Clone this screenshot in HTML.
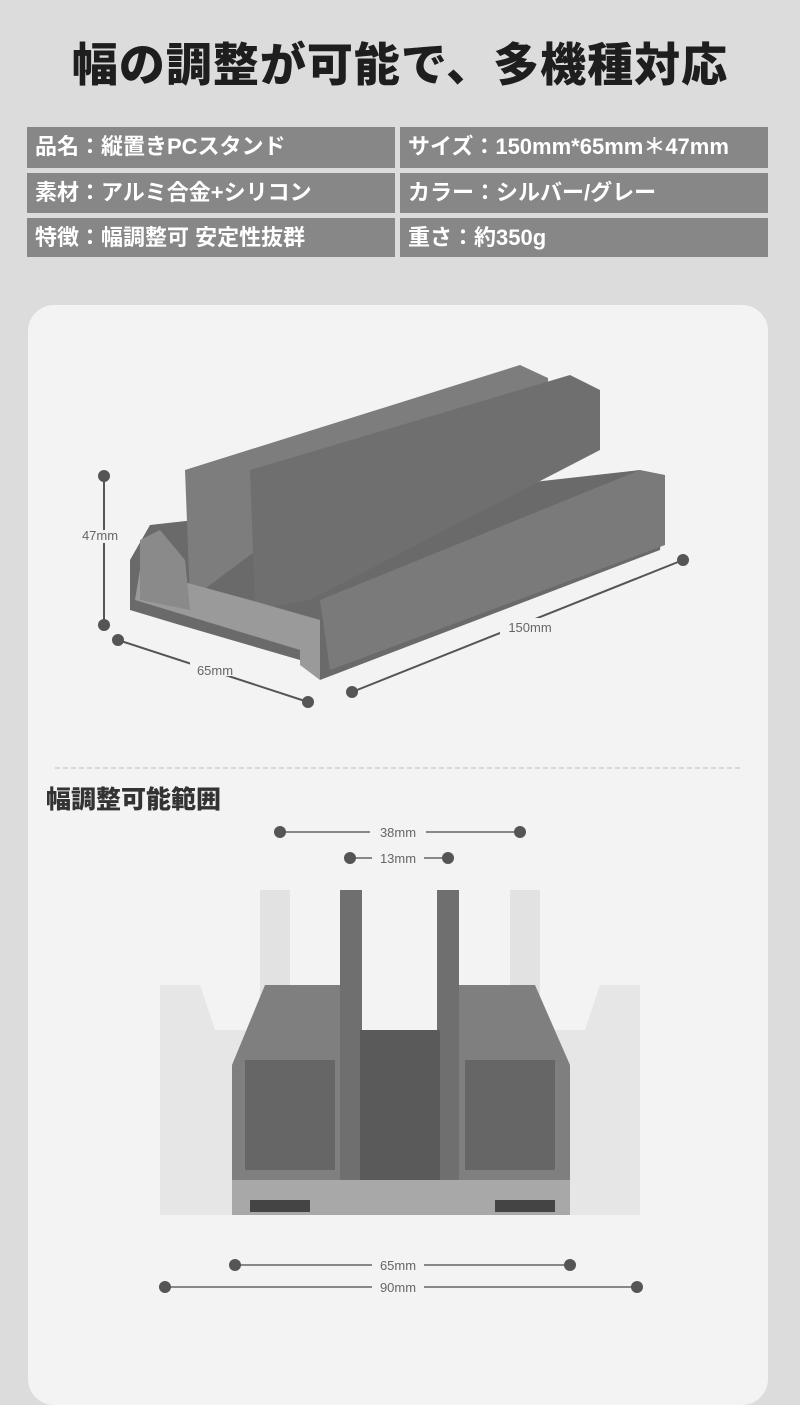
<!DOCTYPE html>
<html><head><meta charset="utf-8"><style>
body{margin:0;width:800px;height:1364px;background:#dcdcdc;position:relative;overflow:hidden;font-family:"Liberation Sans","Noto Sans CJK JP",sans-serif}
h1{position:absolute;left:0;width:800px;top:30px;margin:0;text-align:center;font-size:46px;font-weight:900;color:#1e1e1e;letter-spacing:1px;line-height:70px}
.c{position:absolute;background:#878787;color:#fff;font-size:22px;font-weight:bold;line-height:40px;padding-left:8px;box-sizing:border-box}
.card{position:absolute;left:28px;top:305px;width:740px;height:1100px;background:#f3f3f3;border-radius:26px}
h2{position:absolute;left:46px;top:780px;margin:0;font-size:25px;font-weight:900;color:#333}
svg{position:absolute;left:0;top:0}
</style></head><body>
<h1>幅の調整が可能で、多機種対応</h1>
<div class="c" style="left:27px;top:127px;width:368px;height:41px">品名：縦置きPCスタンド</div>
<div class="c" style="left:400px;top:127px;width:368px;height:41px">サイズ：150mm*65mm＊47mm</div>
<div class="c" style="left:27px;top:173px;width:368px;height:40px">素材：アルミ合金+シリコン</div>
<div class="c" style="left:400px;top:173px;width:368px;height:40px">カラー：シルバー/グレー</div>
<div class="c" style="left:27px;top:218px;width:368px;height:39px">特徴：幅調整可 安定性抜群</div>
<div class="c" style="left:400px;top:218px;width:368px;height:39px">重さ：約350g</div>
<div class="card"></div>
<h2>幅調整可能範囲</h2>
<svg width="800" height="1364" font-family="Liberation Sans, sans-serif">
<g fill="#555" stroke="#555" stroke-width="2">
<line x1="104" y1="476" x2="104" y2="625"/><circle cx="104" cy="476" r="5"/><circle cx="104" cy="625" r="5"/>
<line x1="118" y1="640" x2="308" y2="702"/><circle cx="118" cy="640" r="5"/><circle cx="308" cy="702" r="5"/>
<line x1="352" y1="692" x2="683" y2="560"/><circle cx="352" cy="692" r="5"/><circle cx="683" cy="560" r="5"/>
<line x1="280" y1="832" x2="520" y2="832" stroke="#888"/><circle cx="280" cy="832" r="5"/><circle cx="520" cy="832" r="5"/>
<line x1="350" y1="858" x2="448" y2="858" stroke="#888"/><circle cx="350" cy="858" r="5"/><circle cx="448" cy="858" r="5"/>
<line x1="235" y1="1265" x2="570" y2="1265" stroke="#888"/><circle cx="235" cy="1265" r="5"/><circle cx="570" cy="1265" r="5"/>
<line x1="165" y1="1287" x2="637" y2="1287" stroke="#888"/><circle cx="165" cy="1287" r="5"/><circle cx="637" cy="1287" r="5"/>
</g>
<g font-size="13" fill="#666" text-anchor="middle">
<text x="100" y="540" fill="#f3f3f3" stroke="#f3f3f3" stroke-width="6">47mm</text><text x="100" y="540">47mm</text>
<rect x="190" y="660" width="50" height="16" fill="#f3f3f3"/><text x="215" y="675">65mm</text>
<rect x="500" y="618" width="60" height="16" fill="#f3f3f3"/><text x="530" y="632">150mm</text>
<rect x="370" y="824" width="56" height="16" fill="#f3f3f3"/><text x="398" y="837">38mm</text>
<rect x="372" y="850" width="52" height="16" fill="#f3f3f3"/><text x="398" y="863">13mm</text>
<rect x="372" y="1257" width="52" height="16" fill="#f3f3f3"/><text x="398" y="1270">65mm</text>
<rect x="372" y="1279" width="52" height="16" fill="#f3f3f3"/><text x="398" y="1292">90mm</text>
</g>
<line x1="55" y1="768" x2="740" y2="768" stroke="#bbb" stroke-dasharray="5 3"/>
<!-- top product -->
<g>
<polygon points="130,560 150,525 640,470 665,480 660,550 320,680 300,660 180,625 130,610" fill="#6a6a6a"/>
<polygon points="185,470 520,365 548,378 548,405 250,555 190,600" fill="#7d7d7d"/>
<polygon points="250,470 570,375 600,390 600,450 310,600 255,610" fill="#6f6f6f"/>
<polygon points="320,600 640,470 665,475 665,545 330,670" fill="#7a7a7a"/>
<polygon points="135,600 300,650 300,665 320,680 320,620 250,600 140,570" fill="#9a9a9a"/>
<polygon points="140,540 160,530 185,560 190,610 140,600" fill="#8a8a8a"/>
</g>
<!-- bottom product -->
<g>
<polygon points="160,985 200,985 215,1030 585,1030 600,985 640,985 640,1215 160,1215" fill="#e6e6e6"/>
<rect x="260" y="890" width="30" height="130" fill="#e2e2e2"/><rect x="510" y="890" width="30" height="130" fill="#e2e2e2"/>
<polygon points="232,1065 265,985 345,985 345,1215 232,1215" fill="#7f7f7f"/>
<polygon points="455,985 535,985 570,1065 570,1215 455,1215" fill="#7f7f7f"/>
<rect x="340" y="890" width="22" height="290" fill="#6f6f6f"/><rect x="437" y="890" width="22" height="290" fill="#6f6f6f"/>
<rect x="360" y="1030" width="80" height="150" fill="#5a5a5a"/>
<rect x="232" y="1180" width="338" height="35" fill="#a8a8a8"/>
<rect x="250" y="1200" width="60" height="12" fill="#444"/><rect x="495" y="1200" width="60" height="12" fill="#444"/>
<rect x="245" y="1060" width="90" height="110" fill="#666"/><rect x="465" y="1060" width="90" height="110" fill="#666"/>
</g>
</svg>
</body></html>
